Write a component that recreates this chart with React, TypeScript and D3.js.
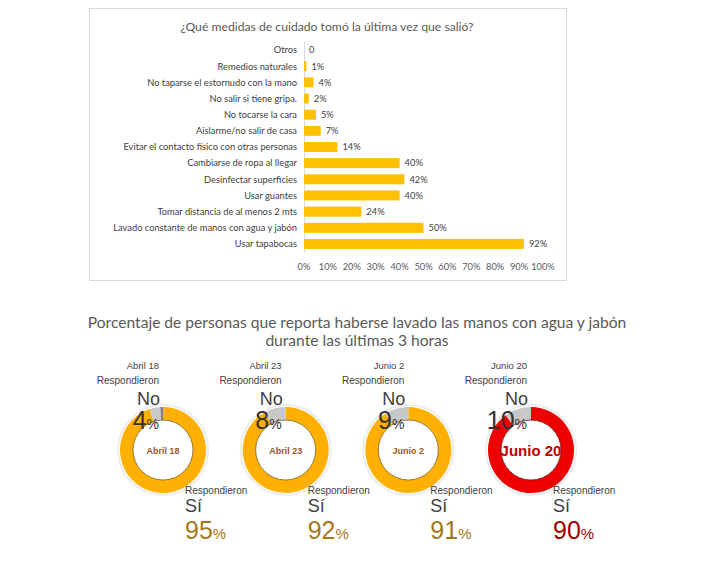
import React from "react";
import * as d3 from "d3";

const categories = [
  "Otros",
  "Remedios naturales",
  "No taparse el estornudo con la mano",
  "No salir si tiene gripa.",
  "No tocarse la cara",
  "Aislarme/no salir de casa",
  "Evitar el contacto físico con otras personas",
  "Cambiarse de ropa al llegar",
  "Desinfectar superficies",
  "Usar guantes",
  "Tomar distancia de al menos 2 mts",
  "Lavado constante de manos con agua y jabón",
  "Usar tapabocas",
];
const values = [0, 1, 4, 2, 5, 7, 14, 40, 42, 40, 24, 50, 92];
const valueLabels = ["0", "1%", "4%", "2%", "5%", "7%", "14%", "40%", "42%", "40%", "24%", "50%", "92%"];
const xTicks = [0, 10, 20, 30, 40, 50, 60, 70, 80, 90, 100];

const dates = ["Abril 18", "Abril 23", "Junio 2", "Junio 20"];
const siValues = [95, 92, 91, 90];
const noValues = [4, 8, 9, 10];

const GOLD = "#FFC000";
const CAL = "Lato, 'Open Sans', sans-serif";
const ARIAL = "'Liberation Sans', Arial, sans-serif";

function Donut({ i, cx, cy }: { i: number; cx: number; cy: number }) {
  const last = i === dates.length - 1;
  const ringColor = last ? "#EE0000" : "#FFB000";
  const rest = Math.max(0, 100 - siValues[i] - noValues[i]);
  const pie = d3.pie<number>().sort(null).value((d) => d);
  const arcs = pie([siValues[i], noValues[i], rest]);
  const arc = d3.arc<d3.PieArcDatum<number>>().innerRadius(30).outerRadius(43);
  const colors = [ringColor, "#C8C8C8", "#808080"];
  return (
    <g>
      <circle cx={cx} cy={cy} r={45} fill="none" stroke="#EDEDED" strokeWidth={2} />
      <g transform={`translate(${cx},${cy})`}>
        {arcs.map((a, k) => (
          <path key={k} d={arc(a) || ""} fill={colors[k]} />
        ))}
        <circle r={30} fill="#fff" stroke={last ? "#5a1010" : "#7a5a10"} strokeWidth={0.8} />
        <text
          textAnchor="middle"
          y={last ? 5.5 : 3.5}
          fontFamily={ARIAL}
          fontWeight="bold"
          fontSize={last ? 15 : 9}
          fill={last ? "#C00000" : "#9E5424"}
        >
          {dates[i]}
        </text>
      </g>
      <text x={cx - 4} y={368.5} textAnchor="end" fontFamily={ARIAL} fontSize={9.5} fill="#404040">
        {dates[i]}
      </text>
      <text x={cx - 4} y={384} textAnchor="end" fontFamily={ARIAL} fontSize={10} fill="#404040">
        Respondieron
      </text>
      <text x={cx - 3} y={405} textAnchor="end" fontFamily={ARIAL} fontSize={18} fill="#404040">
        No
      </text>
      <text x={cx - 4} y={429} textAnchor="end" fontFamily={ARIAL} fill="#333333">
        <tspan fontSize={25}>{noValues[i]}</tspan>
        <tspan fontSize={14}>%</tspan>
      </text>
      <text x={cx + 22} y={494} fontFamily={ARIAL} fontSize={10} fill="#404040">
        Respondieron
      </text>
      <text x={cx + 22} y={511.5} fontFamily={ARIAL} fontSize={18} fill="#404040">
        Sí
      </text>
      <text x={cx + 22} y={538.5} fontFamily={ARIAL} fill={last ? "#990000" : "#A5771B"}>
        <tspan fontSize={25}>{siValues[i]}</tspan>
        <tspan fontSize={15}>%</tspan>
      </text>
    </g>
  );
}

export default function App() {
  const x = d3.scaleLinear().domain([0, 100]).range([304, 543]);
  const y = d3.scaleBand<string>().domain(categories).range([42, 252]).paddingInner(0.38).paddingOuter(0.19);
  const centers = d3.scalePoint<string>().domain(dates).range([163, 531]);

  return (
    <svg
      width={717}
      height={587}
      style={{ position: "absolute", left: 0, top: 0, background: "#fff" }}
    >
      <rect x={89.5} y={8.5} width={477} height={272} fill="#fff" stroke="#D9D9D9" />
      <text x={327} y={31} textAnchor="middle" fontFamily={CAL} fontSize={12.2} fill="#595959">
        ¿Qué medidas de cuidado tomó la última vez que salió?
      </text>
      <line x1={304.5} x2={304.5} y1={42} y2={252} stroke="#D9D9D9" />
      {categories.map((c, k) => {
        const yc = (y(c) || 0) + y.bandwidth() / 2;
        return (
          <g key={c}>
            <text x={297} y={yc + 3.3} textAnchor="end" fontFamily={CAL} fontSize={9.3} fill="#404040">
              {c}
            </text>
            <rect x={x(0)} y={y(c)} width={x(values[k]) - x(0)} height={y.bandwidth()} fill={GOLD} />
            <text x={x(values[k]) + 5} y={yc + 3.3} fontFamily={CAL} fontSize={9.3} fill="#404040">
              {valueLabels[k]}
            </text>
          </g>
        );
      })}
      {xTicks.map((t) => (
        <text key={t} x={x(t)} y={270} textAnchor="middle" fontFamily={CAL} fontSize={9.3} fill="#595959">
          {t}%
        </text>
      ))}
      <text x={357} y={328} textAnchor="middle" fontFamily={CAL} fontSize={15.6} fill="#595959">
        Porcentaje de personas que reporta haberse lavado las manos con agua y jabón
      </text>
      <text x={357} y={346} textAnchor="middle" fontFamily={CAL} fontSize={15.6} fill="#595959">
        durante las últimas 3 horas
      </text>
      {dates.map((d, i) => (
        <Donut key={d} i={i} cx={centers(d) || 0} cy={450} />
      ))}
    </svg>
  );
}
